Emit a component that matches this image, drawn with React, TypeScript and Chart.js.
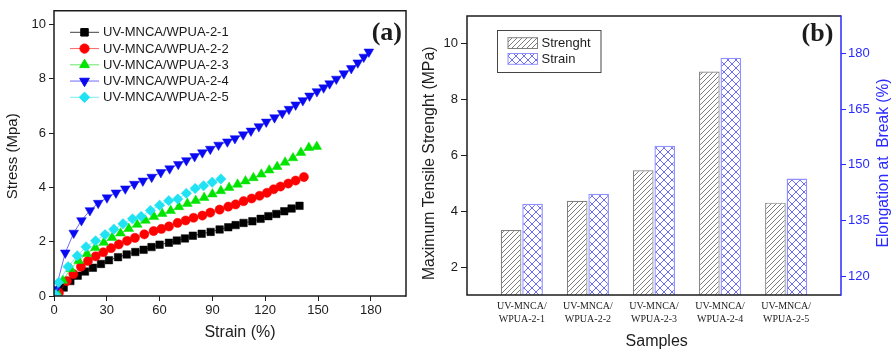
import { useEffect, useRef } from 'react';
import { Chart, registerables } from 'chart.js';
import { drawPoint } from 'chart.js/helpers';

Chart.register(...registerables);

// ---- (a) stress–strain curves ----
const seriesNames = [
  'UV-MNCA/WPUA-2-1',
  'UV-MNCA/WPUA-2-2',
  'UV-MNCA/WPUA-2-3',
  'UV-MNCA/WPUA-2-4',
  'UV-MNCA/WPUA-2-5',
];

const strain21 = [1, 5.5, 9.3, 13.5, 17.6, 22.1, 26.7, 31.2, 36.4, 41.3, 46.2, 50.9, 55.4, 60.0, 65.3, 69.8, 74.4, 78.9, 83.9, 89.0, 94.1, 99.0, 103.2, 107.7, 112.7, 117.4, 121.8, 126.3, 130.8, 135.0, 139.5];
const stress21 = [0.05, 0.31, 0.55, 0.75, 0.9, 1.04, 1.18, 1.32, 1.43, 1.53, 1.62, 1.7, 1.8, 1.89, 1.96, 2.04, 2.12, 2.22, 2.29, 2.36, 2.45, 2.53, 2.61, 2.69, 2.75, 2.84, 2.94, 3.02, 3.12, 3.22, 3.32];

const strain22 = [2.8, 7.3, 11.0, 15.3, 19.3, 23.7, 28.0, 32.4, 36.8, 41.5, 46.0, 51.3, 56.6, 61.0, 65.3, 70.2, 74.8, 79.3, 84.3, 88.8, 94.1, 99.0, 103.2, 107.7, 112.3, 116.8, 121.0, 124.8, 128.7, 133.1, 137.3, 142.0];
const stress22 = [0.12, 0.55, 0.81, 1.08, 1.29, 1.46, 1.61, 1.76, 1.9, 2.03, 2.14, 2.27, 2.39, 2.47, 2.56, 2.69, 2.78, 2.88, 2.96, 3.07, 3.18, 3.29, 3.37, 3.49, 3.59, 3.69, 3.8, 3.93, 4.03, 4.14, 4.25, 4.38];

const strain23 = [1.5, 5.0, 9.5, 14.0, 18.7, 23.5, 28.3, 33.0, 37.8, 42.5, 47.3, 52.0, 56.8, 61.5, 66.3, 71.0, 75.8, 80.5, 85.3, 90.0, 94.8, 99.5, 104.3, 108.8, 113.3, 117.8, 122.3, 126.8, 131.3, 135.8, 140.3, 144.8, 149.3];
const stress23 = [0.15, 0.57, 1.0, 1.3, 1.56, 1.78, 1.97, 2.15, 2.31, 2.48, 2.63, 2.78, 2.92, 3.03, 3.14, 3.28, 3.4, 3.51, 3.62, 3.75, 3.87, 3.99, 4.11, 4.23, 4.35, 4.48, 4.63, 4.76, 4.92, 5.08, 5.28, 5.46, 5.5];

const strain24 = [1.0, 6.4, 11.2, 15.6, 20.4, 25.1, 30.1, 35.2, 40.5, 45.6, 50.5, 55.5, 60.7, 65.7, 70.6, 75.2, 79.9, 84.3, 88.8, 93.5, 98.5, 102.8, 107.5, 111.9, 116.4, 120.6, 125.3, 129.7, 133.5, 137.3, 141.4, 145.2, 149.4, 153.2, 156.6, 160.4, 164.7, 168.9, 172.6, 176.0, 178.9];
const stress24 = [0.25, 1.59, 2.32, 2.78, 3.15, 3.42, 3.62, 3.8, 3.95, 4.12, 4.24, 4.38, 4.55, 4.69, 4.85, 4.99, 5.14, 5.28, 5.41, 5.56, 5.68, 5.8, 5.94, 6.08, 6.24, 6.41, 6.57, 6.73, 6.88, 7.04, 7.2, 7.37, 7.53, 7.67, 7.82, 7.99, 8.19, 8.38, 8.59, 8.8, 8.99];

const strain25 = [1.0, 2.6, 8.0, 13.2, 18.2, 23.6, 29.0, 34.0, 39.2, 44.6, 49.5, 54.8, 60.0, 65.2, 70.3, 75.2, 80.2, 85.0, 89.9, 94.8];
const stress25 = [0.05, 0.5, 1.08, 1.48, 1.81, 2.03, 2.26, 2.46, 2.66, 2.84, 2.93, 3.15, 3.34, 3.51, 3.57, 3.78, 3.96, 4.06, 4.19, 4.31];

const strainTicks = [0, 30, 60, 90, 120, 150, 180];
const stressTicks = [0, 2, 4, 6, 8, 10];

// ---- (b) strength / elongation bars ----
const samples = ['UV-MNCA/WPUA-2-1', 'UV-MNCA/WPUA-2-2', 'UV-MNCA/WPUA-2-3', 'UV-MNCA/WPUA-2-4', 'UV-MNCA/WPUA-2-5'];
const maxStrength = [3.33, 4.38, 5.47, 9.01, 4.31];
const elongation = [139.5, 142.2, 155.1, 178.8, 146.3];
const strengthTicks = [2, 4, 6, 8, 10];
const elongationTicks = [120, 135, 150, 165, 180];

const ink = '#1c1c1c';
const axisBlue = '#2a2aff';
const sans = 'Liberation Sans, Arial, sans-serif';
const serif = 'Liberation Serif, Times New Roman, serif';

const curveStyles = [
  { color: '#000000', line: 'rgba(0,0,0,0.75)', pointStyle: 'rect', rotation: 0, radius: 5.3 },
  { color: '#ff0000', line: 'rgba(255,0,0,0.6)', pointStyle: 'circle', rotation: 0, radius: 4.6 },
  { color: '#00e400', line: 'rgba(0,220,0,0.6)', pointStyle: 'triangle', rotation: 0, radius: 5.6 },
  { color: '#0a0af2', line: 'rgba(10,10,242,0.6)', pointStyle: 'triangle', rotation: 180, radius: 5.6 },
  { color: '#1fe2f2', line: 'rgba(31,226,242,0.6)', pointStyle: 'rectRot', rotation: 0, radius: 5.2 },
];

const curveX = [strain21, strain22, strain23, strain24, strain25];
const curveY = [stress21, stress22, stress23, stress24, stress25];

type Label = { text: string; x: number; y: number; font: string; color?: string; vertical?: boolean; align?: CanvasTextAlign };

const textPlugin = (labels: Label[]) => ({
  id: 'texts',
  afterDraw(chart: any) {
    const ctx: CanvasRenderingContext2D = chart.ctx;
    for (const l of labels) {
      ctx.save();
      ctx.font = l.font;
      ctx.fillStyle = l.color || ink;
      ctx.textAlign = l.align || 'center';
      ctx.textBaseline = 'middle';
      ctx.translate(l.x, l.y);
      if (l.vertical) ctx.rotate(-Math.PI / 2);
      ctx.fillText(l.text, 0, 0);
      ctx.restore();
    }
  },
});

const framePlugin = (rightColor: string) => ({
  id: 'frame',
  afterDraw(chart: any) {
    const { ctx, chartArea: a } = chart;
    ctx.save();
    ctx.lineWidth = 1.5;
    ctx.strokeStyle = ink;
    ctx.beginPath();
    ctx.moveTo(a.right, a.top);
    ctx.lineTo(a.left, a.top);
    ctx.lineTo(a.left, a.bottom);
    ctx.lineTo(a.right, a.bottom);
    ctx.stroke();
    ctx.strokeStyle = rightColor;
    ctx.beginPath();
    ctx.moveTo(a.right, a.top - 0.75);
    ctx.lineTo(a.right, a.bottom + 0.75);
    ctx.stroke();
    ctx.restore();
  },
});

// line + marker legend inside the curve panel
const curveLegendPlugin = {
  id: 'curveLegend',
  afterDraw(chart: any) {
    const ctx: CanvasRenderingContext2D = chart.ctx;
    chart.data.datasets.forEach((ds: any, i: number) => {
      const st = curveStyles[i];
      const y = 32.3 + i * 16.25;
      ctx.save();
      ctx.strokeStyle = st.line;
      ctx.lineWidth = 1;
      ctx.beginPath();
      ctx.moveTo(70, y);
      ctx.lineTo(99, y);
      ctx.stroke();
      ctx.fillStyle = st.color;
      ctx.strokeStyle = st.color;
      drawPoint(ctx, { pointStyle: st.pointStyle, rotation: st.rotation, radius: st.radius, borderWidth: 0.5 } as any, 84.5, y);
      ctx.font = `13px ${sans}`;
      ctx.fillStyle = ink;
      ctx.textAlign = 'left';
      ctx.textBaseline = 'middle';
      ctx.fillText(ds.label, 103, y + 0.5);
      ctx.restore();
    });
  },
};

const tickFont = { family: sans, size: 13 };

function CurvePanel() {
  const ref = useRef<HTMLCanvasElement>(null);
  useEffect(() => {
    const datasets = seriesNames.map((name, i) => {
      const st = curveStyles[i];
      return {
        label: name,
        data: curveX[i].map((x, k) => ({ x, y: curveY[i][k] })),
        showLine: true,
        borderColor: st.line,
        borderWidth: 1,
        backgroundColor: st.color,
        pointBackgroundColor: st.color,
        pointBorderColor: st.color,
        pointBorderWidth: 0.5,
        pointStyle: st.pointStyle,
        pointRotation: st.rotation,
        pointRadius: st.radius,
        order: seriesNames.length - i,
      };
    });
    const chart = new Chart(ref.current!, {
      type: 'scatter',
      data: { datasets } as any,
      options: {
        responsive: false,
        animation: false,
        devicePixelRatio: 1,
        layout: { padding: { left: 0, right: 14, top: 10, bottom: 0 } },
        plugins: { legend: { display: false }, tooltip: { enabled: false } },
        scales: {
          x: {
            type: 'linear',
            min: 0,
            max: 200,
            afterBuildTicks: (s: any) => { s.ticks = strainTicks.map((v) => ({ value: v })); },
            afterFit: (s: any) => { s.height = 55; },
            grid: { drawOnChartArea: false, color: ink, tickLength: 5 },
            border: { display: false },
            ticks: { font: tickFont, color: ink, padding: 2, maxRotation: 0 },
          },
          y: {
            type: 'linear',
            min: 0,
            max: 10.5,
            afterBuildTicks: (s: any) => { s.ticks = stressTicks.map((v) => ({ value: v })); },
            afterFit: (s: any) => { s.width = 54; },
            grid: { drawOnChartArea: false, color: ink, tickLength: 5 },
            border: { display: false },
            ticks: { font: tickFont, color: ink, padding: 3 },
          },
        },
      } as any,
      plugins: [
        framePlugin(ink),
        curveLegendPlugin,
        textPlugin([
          { text: '(a)', x: 402, y: 33, font: `bold 26px ${serif}`, align: 'right' },
          { text: 'Stress (Mpa)', x: 13.3, y: 156.3, font: `15px ${sans}`, vertical: true },
          { text: 'Strain (%)', x: 240, y: 332.7, font: `16px ${sans}` },
        ]),
      ],
    });
    return () => chart.destroy();
  }, []);
  return <canvas ref={ref} width={420} height={351} style={{ position: 'absolute', left: 0, top: 0 }} />;
}

function makeHatch(ctx: CanvasRenderingContext2D, size: number, color: string, cross: boolean) {
  const c = document.createElement('canvas');
  c.width = size;
  c.height = size;
  const g = c.getContext('2d')!;
  g.fillStyle = '#ffffff';
  g.fillRect(0, 0, size, size);
  g.strokeStyle = color;
  g.lineWidth = 0.9;
  g.beginPath();
  g.moveTo(-1, size + 1);
  g.lineTo(size + 1, -1);
  g.moveTo(-1, 1);
  g.lineTo(1, -1);
  g.moveTo(size - 1, size + 1);
  g.lineTo(size + 1, size - 1);
  if (cross) {
    g.moveTo(-1, -1);
    g.lineTo(size + 1, size + 1);
    g.moveTo(size - 1, -1);
    g.lineTo(size + 1, 1);
    g.moveTo(-1, size - 1);
    g.lineTo(1, size + 1);
  }
  g.stroke();
  return ctx.createPattern(c, 'repeat')!;
}

function BarPanel() {
  const ref = useRef<HTMLCanvasElement>(null);
  useEffect(() => {
    const ctx = ref.current!.getContext('2d')!;
    const strengthFill = makeHatch(ctx, 5, '#6e6e6e', false);
    const strainFill = makeHatch(ctx, 8, '#5a5aff', true);
    const strengthEdge = '#808080';
    const strainEdge = '#9090ff';

    const barLegendPlugin = {
      id: 'barLegend',
      afterDraw(chart: any) {
        const c: CanvasRenderingContext2D = chart.ctx;
        c.save();
        c.strokeStyle = '#444';
        c.lineWidth = 1;
        c.strokeRect(77.5, 30.5, 103.5, 42);
        const rows = [
          { label: chart.data.datasets[0].label, fill: strengthFill, edge: strengthEdge, y: 37.7 },
          { label: chart.data.datasets[1].label, fill: strainFill, edge: strainEdge, y: 53.5 },
        ];
        for (const r of rows) {
          c.fillStyle = r.fill;
          c.fillRect(88, r.y, 29.5, 10.8);
          c.strokeStyle = r.edge;
          c.strokeRect(88, r.y, 29.5, 10.8);
          c.fillStyle = ink;
          c.font = `13px ${sans}`;
          c.textAlign = 'left';
          c.textBaseline = 'middle';
          c.fillText(r.label, 121.5, r.y + 5.6);
        }
        c.restore();
      },
    };

    const chart = new Chart(ref.current!, {
      type: 'bar',
      data: {
        datasets: [
          {
            label: 'Strenght',
            data: maxStrength.map((v, i) => ({ x: i + 1, y: v })),
            yAxisID: 'y',
            backgroundColor: strengthFill,
            borderColor: strengthEdge,
            borderWidth: 1.2,
            categoryPercentage: 0.65,
            barPercentage: 0.96,
          },
          {
            label: 'Strain',
            data: elongation.map((v, i) => ({ x: i + 1, y: v })),
            yAxisID: 'y2',
            backgroundColor: strainFill,
            borderColor: strainEdge,
            borderWidth: 1.4,
            categoryPercentage: 0.65,
            barPercentage: 0.96,
          },
        ],
      } as any,
      options: {
        responsive: false,
        animation: false,
        devicePixelRatio: 1,
        layout: { padding: { left: 0, right: 0, top: 16, bottom: 0 } },
        plugins: { legend: { display: false }, tooltip: { enabled: false } },
        scales: {
          x: {
            type: 'linear',
            min: 0.17,
            max: 5.83,
            offset: false,
            afterBuildTicks: (s: any) => { s.ticks = samples.map((_, i) => ({ value: i + 1 })); },
            afterFit: (s: any) => { s.height = 56; },
            grid: { display: false, drawTicks: false },
            border: { display: false },
            ticks: {
              font: { family: serif, size: 10, lineHeight: 1.33 },
              color: ink,
              padding: 4.5,
              maxRotation: 0,
              autoSkip: false,
              callback: (v: number) => {
                const s = samples[Math.round(v) - 1] || '';
                const cut = s.indexOf('/') + 1;
                return [s.slice(0, cut), s.slice(cut)];
              },
            },
          },
          y: {
            type: 'linear',
            position: 'left',
            min: 1,
            max: 11,
            afterBuildTicks: (s: any) => { s.ticks = strengthTicks.map((v) => ({ value: v })); },
            afterFit: (s: any) => { s.width = 47; },
            grid: { drawOnChartArea: false, color: ink, tickLength: 6 },
            border: { display: false },
            ticks: { font: tickFont, color: ink, padding: 3 },
          },
          y2: {
            type: 'linear',
            position: 'right',
            min: 115,
            max: 190,
            afterBuildTicks: (s: any) => { s.ticks = elongationTicks.map((v) => ({ value: v })); },
            afterFit: (s: any) => { s.width = 54; },
            grid: { drawOnChartArea: false, color: axisBlue, tickLength: 5 },
            border: { display: false },
            ticks: { font: tickFont, color: axisBlue, padding: 2 },
          },
        },
      } as any,
      plugins: [
        framePlugin(axisBlue),
        barLegendPlugin,
        textPlugin([
          { text: '(b)', x: 413.3, y: 34, font: `bold 26px ${serif}`, align: 'right' },
          { text: 'Maximum Tensile Strenght (MPa)', x: 9.3, y: 163.3, font: `15.8px ${sans}`, vertical: true },
          { text: 'Elongation at  Break (%)', x: 463.3, y: 163, font: `15.6px ${sans}`, color: axisBlue, vertical: true },
          { text: 'Samples', x: 236.7, y: 341.5, font: `16px ${sans}` },
        ]),
      ],
    });
    return () => chart.destroy();
  }, []);
  return <canvas ref={ref} width={475} height={351} style={{ position: 'absolute', left: 420, top: 0 }} />;
}

export default function App() {
  return (
    <div style={{ position: 'absolute', left: 0, top: 0, width: 895, height: 351, background: '#ffffff', overflow: 'hidden' }}>
      <CurvePanel />
      <BarPanel />
    </div>
  );
}
